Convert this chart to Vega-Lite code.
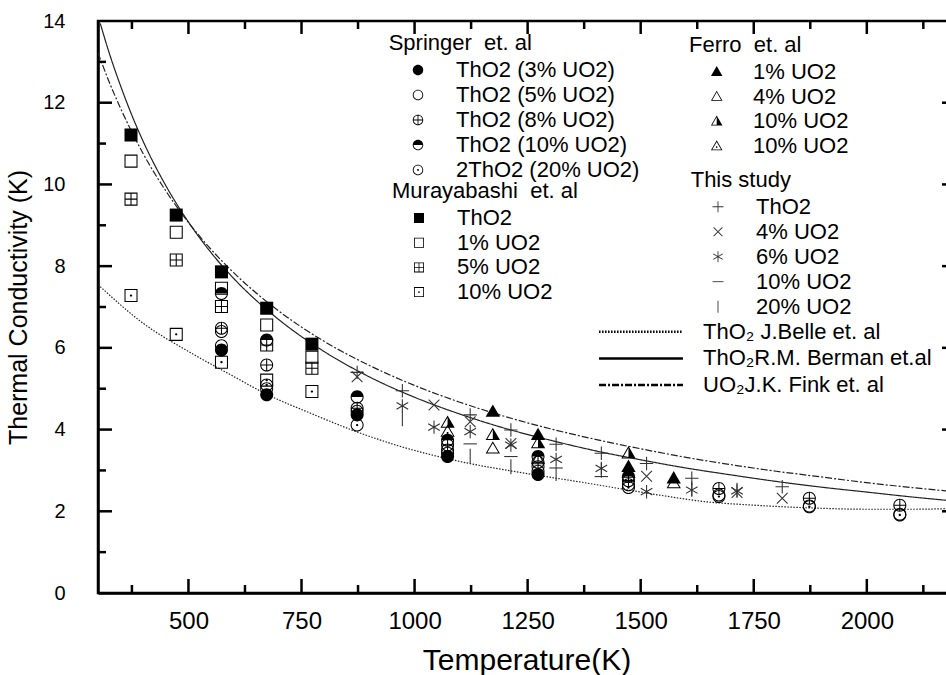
{
  "$schema": "https://vega.github.io/schema/vega-lite/v6.json",
  "width": 857,
  "height": 572,
  "autosize": {"type": "none"},
  "padding": {"left": 98, "top": 21, "right": -9, "bottom": 82},
  "background": "white",
  "config": {"view": {"stroke": "black", "strokeWidth": 2.5}, "font": "Liberation Sans"},
  "datasets": {
    "xmajor": [{"v": 500}, {"v": 750}, {"v": 1000}, {"v": 1250}, {"v": 1500}, {"v": 1750}, {"v": 2000}],
    "xminor": [{"v": 375}, {"v": 625}, {"v": 875}, {"v": 1125}, {"v": 1375}, {"v": 1625}, {"v": 1875}, {"v": 2125}],
    "ymajor": [{"v": 2}, {"v": 4}, {"v": 6}, {"v": 8}, {"v": 10}, {"v": 12}],
    "yminor": [{"v": 1}, {"v": 3}, {"v": 5}, {"v": 7}, {"v": 9}, {"v": 11}, {"v": 13}],
    "lines": [
      {"m": "ThO₂ J.Belle et. al", "T": 300, "K": 7.55},
      {"m": "ThO₂ J.Belle et. al", "T": 400, "K": 6.6},
      {"m": "ThO₂ J.Belle et. al", "T": 502, "K": 5.9},
      {"m": "ThO₂ J.Belle et. al", "T": 600, "K": 5.3},
      {"m": "ThO₂ J.Belle et. al", "T": 672, "K": 4.87},
      {"m": "ThO₂ J.Belle et. al", "T": 770, "K": 4.4},
      {"m": "ThO₂ J.Belle et. al", "T": 871, "K": 3.95},
      {"m": "ThO₂ J.Belle et. al", "T": 965, "K": 3.6},
      {"m": "ThO₂ J.Belle et. al", "T": 1100, "K": 3.22},
      {"m": "ThO₂ J.Belle et. al", "T": 1250, "K": 2.92},
      {"m": "ThO₂ J.Belle et. al", "T": 1365, "K": 2.72},
      {"m": "ThO₂ J.Belle et. al", "T": 1500, "K": 2.47},
      {"m": "ThO₂ J.Belle et. al", "T": 1586, "K": 2.32},
      {"m": "ThO₂ J.Belle et. al", "T": 1631, "K": 2.25},
      {"m": "ThO₂ J.Belle et. al", "T": 1750, "K": 2.15},
      {"m": "ThO₂ J.Belle et. al", "T": 1881, "K": 2.08},
      {"m": "ThO₂ J.Belle et. al", "T": 2000, "K": 2.05},
      {"m": "ThO₂ J.Belle et. al", "T": 2100, "K": 2.05},
      {"m": "ThO₂ J.Belle et. al", "T": 2195, "K": 2.07},
      {"m": "ThO₂R.M. Berman et.al", "T": 305, "K": 13.94},
      {"m": "ThO₂R.M. Berman et.al", "T": 325, "K": 13.21},
      {"m": "ThO₂R.M. Berman et.al", "T": 350, "K": 12.41},
      {"m": "ThO₂R.M. Berman et.al", "T": 375, "K": 11.69},
      {"m": "ThO₂R.M. Berman et.al", "T": 400, "K": 11.05},
      {"m": "ThO₂R.M. Berman et.al", "T": 450, "K": 9.97},
      {"m": "ThO₂R.M. Berman et.al", "T": 500, "K": 9.08},
      {"m": "ThO₂R.M. Berman et.al", "T": 550, "K": 8.33},
      {"m": "ThO₂R.M. Berman et.al", "T": 600, "K": 7.7},
      {"m": "ThO₂R.M. Berman et.al", "T": 700, "K": 6.69},
      {"m": "ThO₂R.M. Berman et.al", "T": 800, "K": 5.91},
      {"m": "ThO₂R.M. Berman et.al", "T": 900, "K": 5.29},
      {"m": "ThO₂R.M. Berman et.al", "T": 1000, "K": 4.79},
      {"m": "ThO₂R.M. Berman et.al", "T": 1100, "K": 4.38},
      {"m": "ThO₂R.M. Berman et.al", "T": 1200, "K": 4.03},
      {"m": "ThO₂R.M. Berman et.al", "T": 1300, "K": 3.74},
      {"m": "ThO₂R.M. Berman et.al", "T": 1400, "K": 3.48},
      {"m": "ThO₂R.M. Berman et.al", "T": 1500, "K": 3.26},
      {"m": "ThO₂R.M. Berman et.al", "T": 1600, "K": 3.06},
      {"m": "ThO₂R.M. Berman et.al", "T": 1700, "K": 2.89},
      {"m": "ThO₂R.M. Berman et.al", "T": 1800, "K": 2.73},
      {"m": "ThO₂R.M. Berman et.al", "T": 1900, "K": 2.59},
      {"m": "ThO₂R.M. Berman et.al", "T": 2000, "K": 2.47},
      {"m": "ThO₂R.M. Berman et.al", "T": 2100, "K": 2.35},
      {"m": "ThO₂R.M. Berman et.al", "T": 2195, "K": 2.25},
      {"m": "UO₂J.K. Fink et. al", "T": 300, "K": 13.22},
      {"m": "UO₂J.K. Fink et. al", "T": 325, "K": 12.5},
      {"m": "UO₂J.K. Fink et. al", "T": 350, "K": 11.86},
      {"m": "UO₂J.K. Fink et. al", "T": 375, "K": 11.28},
      {"m": "UO₂J.K. Fink et. al", "T": 400, "K": 10.75},
      {"m": "UO₂J.K. Fink et. al", "T": 450, "K": 9.84},
      {"m": "UO₂J.K. Fink et. al", "T": 500, "K": 9.07},
      {"m": "UO₂J.K. Fink et. al", "T": 550, "K": 8.41},
      {"m": "UO₂J.K. Fink et. al", "T": 600, "K": 7.84},
      {"m": "UO₂J.K. Fink et. al", "T": 700, "K": 6.9},
      {"m": "UO₂J.K. Fink et. al", "T": 800, "K": 6.16},
      {"m": "UO₂J.K. Fink et. al", "T": 900, "K": 5.57},
      {"m": "UO₂J.K. Fink et. al", "T": 1000, "K": 5.08},
      {"m": "UO₂J.K. Fink et. al", "T": 1100, "K": 4.67},
      {"m": "UO₂J.K. Fink et. al", "T": 1200, "K": 4.32},
      {"m": "UO₂J.K. Fink et. al", "T": 1300, "K": 4.02},
      {"m": "UO₂J.K. Fink et. al", "T": 1400, "K": 3.76},
      {"m": "UO₂J.K. Fink et. al", "T": 1500, "K": 3.53},
      {"m": "UO₂J.K. Fink et. al", "T": 1600, "K": 3.32},
      {"m": "UO₂J.K. Fink et. al", "T": 1700, "K": 3.14},
      {"m": "UO₂J.K. Fink et. al", "T": 1800, "K": 2.98},
      {"m": "UO₂J.K. Fink et. al", "T": 1900, "K": 2.84},
      {"m": "UO₂J.K. Fink et. al", "T": 2000, "K": 2.7},
      {"m": "UO₂J.K. Fink et. al", "T": 2100, "K": 2.58},
      {"m": "UO₂J.K. Fink et. al", "T": 2195, "K": 2.48}
    ],
    "springer": [
      {"s": "ThO2 (3% UO2)", "T": 573, "K": 5.95},
      {"s": "ThO2 (3% UO2)", "T": 673, "K": 4.85},
      {"s": "ThO2 (3% UO2)", "T": 873, "K": 4.36},
      {"s": "ThO2 (3% UO2)", "T": 1073, "K": 3.34},
      {"s": "ThO2 (3% UO2)", "T": 1273, "K": 2.9},
      {"s": "ThO2 (5% UO2)", "T": 573, "K": 6.4},
      {"s": "ThO2 (5% UO2)", "T": 673, "K": 5.0},
      {"s": "ThO2 (5% UO2)", "T": 873, "K": 4.45},
      {"s": "ThO2 (5% UO2)", "T": 1073, "K": 3.5},
      {"s": "ThO2 (5% UO2)", "T": 1273, "K": 3.09},
      {"s": "ThO2 (5% UO2)", "T": 1473, "K": 2.65},
      {"s": "ThO2 (5% UO2)", "T": 1673, "K": 2.4},
      {"s": "ThO2 (5% UO2)", "T": 1873, "K": 2.13},
      {"s": "ThO2 (5% UO2)", "T": 2073, "K": 1.93},
      {"s": "ThO2 (10% UO2)", "T": 573, "K": 7.33},
      {"s": "ThO2 (10% UO2)", "T": 673, "K": 6.19},
      {"s": "ThO2 (10% UO2)", "T": 873, "K": 4.8},
      {"s": "ThO2 (10% UO2)", "T": 1073, "K": 3.74},
      {"s": "ThO2 (10% UO2)", "T": 1273, "K": 3.34},
      {"s": "ThO2 (10% UO2)", "T": 1473, "K": 2.85},
      {"s": "ThO2 (8% UO2)", "T": 573, "K": 6.48},
      {"s": "ThO2 (8% UO2)", "T": 673, "K": 5.58},
      {"s": "ThO2 (8% UO2)", "T": 873, "K": 4.52},
      {"s": "ThO2 (8% UO2)", "T": 1073, "K": 3.62},
      {"s": "ThO2 (8% UO2)", "T": 1273, "K": 3.2},
      {"s": "ThO2 (8% UO2)", "T": 1473, "K": 2.75},
      {"s": "ThO2 (8% UO2)", "T": 1673, "K": 2.56},
      {"s": "ThO2 (8% UO2)", "T": 1873, "K": 2.32},
      {"s": "ThO2 (8% UO2)", "T": 2073, "K": 2.15},
      {"s": "2ThO2 (20% UO2)", "T": 573, "K": 6.05},
      {"s": "2ThO2 (20% UO2)", "T": 673, "K": 5.09},
      {"s": "2ThO2 (20% UO2)", "T": 873, "K": 4.11},
      {"s": "2ThO2 (20% UO2)", "T": 1073, "K": 3.42},
      {"s": "2ThO2 (20% UO2)", "T": 1273, "K": 2.98},
      {"s": "2ThO2 (20% UO2)", "T": 1473, "K": 2.58},
      {"s": "2ThO2 (20% UO2)", "T": 1673, "K": 2.36},
      {"s": "2ThO2 (20% UO2)", "T": 1873, "K": 2.11},
      {"s": "2ThO2 (20% UO2)", "T": 2073, "K": 1.91}
    ],
    "muray": [
      {"s": "ThO2", "T": 373, "K": 11.21},
      {"s": "ThO2", "T": 473, "K": 9.25},
      {"s": "ThO2", "T": 573, "K": 7.86},
      {"s": "ThO2", "T": 673, "K": 6.97},
      {"s": "ThO2", "T": 773, "K": 6.09},
      {"s": "1% UO2", "T": 373, "K": 10.57},
      {"s": "1% UO2", "T": 473, "K": 8.83},
      {"s": "1% UO2", "T": 573, "K": 7.46},
      {"s": "1% UO2", "T": 673, "K": 6.56},
      {"s": "1% UO2", "T": 773, "K": 5.77},
      {"s": "5% UO2", "T": 373, "K": 9.64},
      {"s": "5% UO2", "T": 473, "K": 8.15},
      {"s": "5% UO2", "T": 573, "K": 7.01},
      {"s": "5% UO2", "T": 673, "K": 6.07},
      {"s": "5% UO2", "T": 773, "K": 5.5},
      {"s": "10% UO2", "T": 373, "K": 7.28},
      {"s": "10% UO2", "T": 473, "K": 6.33},
      {"s": "10% UO2", "T": 573, "K": 5.65},
      {"s": "10% UO2", "T": 673, "K": 5.21},
      {"s": "10% UO2", "T": 773, "K": 4.93}
    ],
    "ferro": [
      {"s": "1% UO2", "T": 1173, "K": 4.44},
      {"s": "1% UO2", "T": 1273, "K": 3.87},
      {"s": "1% UO2", "T": 1473, "K": 3.09},
      {"s": "1% UO2", "T": 1573, "K": 2.81},
      {"s": "4% UO2", "T": 1173, "K": 3.54},
      {"s": "4% UO2", "T": 1273, "K": 3.28},
      {"s": "4% UO2", "T": 1473, "K": 2.95},
      {"s": "4% UO2", "T": 1573, "K": 2.69},
      {"s": "10% UO2", "T": 1073, "K": 4.17},
      {"s": "10% UO2", "T": 1173, "K": 3.87},
      {"s": "10% UO2", "T": 1273, "K": 3.67},
      {"s": "10% UO2", "T": 1473, "K": 3.42},
      {"s": "10% UO2 ", "T": 1073, "K": 3.95}
    ],
    "study": [
      {"s": "ThO2", "T": 873, "K": 5.4},
      {"s": "ThO2", "T": 973, "K": 4.95},
      {"s": "ThO2", "T": 1123, "K": 4.36},
      {"s": "ThO2", "T": 1213, "K": 3.99},
      {"s": "ThO2", "T": 1313, "K": 3.64},
      {"s": "ThO2", "T": 1413, "K": 3.42},
      {"s": "ThO2", "T": 1513, "K": 3.17},
      {"s": "ThO2", "T": 1613, "K": 2.81},
      {"s": "ThO2", "T": 1813, "K": 2.6},
      {"s": "4% UO2", "T": 873, "K": 5.29},
      {"s": "4% UO2", "T": 1043, "K": 4.6},
      {"s": "4% UO2", "T": 1123, "K": 4.19},
      {"s": "4% UO2", "T": 1213, "K": 3.66},
      {"s": "4% UO2", "T": 1513, "K": 2.86},
      {"s": "4% UO2", "T": 1713, "K": 2.46},
      {"s": "4% UO2", "T": 1813, "K": 2.32},
      {"s": "6% UO2", "T": 973, "K": 4.58},
      {"s": "6% UO2", "T": 1043, "K": 4.06},
      {"s": "6% UO2", "T": 1123, "K": 3.95},
      {"s": "6% UO2", "T": 1213, "K": 3.62},
      {"s": "6% UO2", "T": 1313, "K": 3.27},
      {"s": "6% UO2", "T": 1413, "K": 3.05},
      {"s": "6% UO2", "T": 1513, "K": 2.48},
      {"s": "6% UO2", "T": 1613, "K": 2.52},
      {"s": "6% UO2", "T": 1713, "K": 2.5},
      {"s": "10% UO2", "T": 1123, "K": 3.65},
      {"s": "10% UO2", "T": 1213, "K": 3.34},
      {"s": "10% UO2", "T": 1313, "K": 3.06},
      {"s": "10% UO2", "T": 1413, "K": 2.85},
      {"s": "20% UO2", "T": 973, "K": 4.26},
      {"s": "20% UO2", "T": 1123, "K": 3.35},
      {"s": "20% UO2", "T": 1213, "K": 3.09},
      {"s": "20% UO2", "T": 1313, "K": 2.92},
      {"s": "20% UO2", "T": 1413, "K": 3.0},
      {"s": "20% UO2", "T": 1613, "K": 2.55},
      {"s": "20% UO2", "T": 1713, "K": 2.52}
    ]
  },
  "layer": [
    {
      "data": {"name": "lines"},
      "mark": {"type": "line", "strokeWidth": 1.2, "color": "#222", "interpolate": "monotone", "clip": true},
      "encoding": {
        "x": {"field": "T", "type": "quantitative", "scale": {"domain": [300, 2195], "nice": false, "zero": false},
          "axis": {"orient": "bottom", "values": [500, 750, 1000, 1250, 1500, 1750, 2000], "format": "d", "ticks": false, "labels": true, "labelFont": "Liberation Sans", "labelFontSize": 24, "labelColor": "black", "labelPadding": 16, "labelFlush": false, "labelOverlap": false, "domain": true, "domainColor": "black", "domainWidth": 2.5, "grid": false, "title": "Temperature(K)", "titleFont": "Liberation Sans", "titleFontSize": 30, "titleFontWeight": "normal", "titleColor": "black", "titlePadding": 12}},
        "y": {"field": "K", "type": "quantitative", "scale": {"domain": [0, 14], "nice": false, "zero": true},
          "axis": {"orient": "left", "values": [0, 2, 4, 6, 8, 10, 12, 14], "ticks": false, "labels": true, "labelFont": "Liberation Sans", "labelFontSize": 20, "labelColor": "black", "labelPadding": 33, "labelFlush": false, "labelOverlap": false, "domain": true, "domainColor": "black", "domainWidth": 2.5, "grid": false, "title": "Thermal Conductivity (K)", "titleFont": "Liberation Sans", "titleFontSize": 25, "titleFontWeight": "normal", "titleColor": "black", "titlePadding": 11}},
        "strokeDash": {"field": "m", "type": "nominal",
          "scale": {"domain": ["ThO₂ J.Belle et. al", "ThO₂R.M. Berman et.al", "UO₂J.K. Fink et. al"], "range": [[1.5, 1.5], [1, 0], [7, 2, 2, 2]]},
          "legend": {"title": null, "orient": "none", "legendX": 501, "legendY": 299.7, "direction": "vertical", "symbolType": "M-8,0H8", "symbolSize": 110, "symbolStrokeWidth": 2.5, "symbolStrokeColor": "black", "symbolOffset": 31, "labelOffset": 51, "labelFont": "Liberation Sans", "labelFontSize": 22, "labelColor": "black", "labelLimit": 400, "rowPadding": 4.7, "padding": 0}}
      }
    },
    {
      "data": {"name": "xmajor"},
      "mark": {"type": "tick", "orient": "vertical", "size": 14, "thickness": 2.5, "yOffset": -7, "color": "black", "opacity": 1, "clip": true},
      "encoding": {
        "x": {"field": "v", "type": "quantitative", "axis": null},
        "y": {"datum": 0, "type": "quantitative", "axis": null}
      }
    },
    {
      "data": {"name": "xminor"},
      "mark": {"type": "tick", "orient": "vertical", "size": 8, "thickness": 2.5, "yOffset": -4, "color": "black", "opacity": 1, "clip": true},
      "encoding": {
        "x": {"field": "v", "type": "quantitative", "axis": null},
        "y": {"datum": 0, "type": "quantitative", "axis": null}
      }
    },
    {
      "data": {"name": "xmajor"},
      "mark": {"type": "tick", "orient": "vertical", "size": 13, "thickness": 2.5, "yOffset": 6.5, "color": "black", "opacity": 1, "clip": true},
      "encoding": {
        "x": {"field": "v", "type": "quantitative", "axis": null},
        "y": {"datum": 14, "type": "quantitative", "axis": null}
      }
    },
    {
      "data": {"name": "xminor"},
      "mark": {"type": "tick", "orient": "vertical", "size": 8, "thickness": 2.5, "yOffset": 4, "color": "black", "opacity": 1, "clip": true},
      "encoding": {
        "x": {"field": "v", "type": "quantitative", "axis": null},
        "y": {"datum": 14, "type": "quantitative", "axis": null}
      }
    },
    {
      "data": {"name": "ymajor"},
      "mark": {"type": "tick", "orient": "horizontal", "size": 14, "thickness": 2.5, "xOffset": 7, "color": "black", "opacity": 1, "clip": true},
      "encoding": {
        "y": {"field": "v", "type": "quantitative", "axis": null},
        "x": {"datum": 300, "type": "quantitative", "axis": null}
      }
    },
    {
      "data": {"name": "yminor"},
      "mark": {"type": "tick", "orient": "horizontal", "size": 8, "thickness": 2.5, "xOffset": 4, "color": "black", "opacity": 1, "clip": true},
      "encoding": {
        "y": {"field": "v", "type": "quantitative", "axis": null},
        "x": {"datum": 300, "type": "quantitative", "axis": null}
      }
    },
    {
      "data": {"name": "ymajor"},
      "mark": {"type": "tick", "orient": "horizontal", "size": 13, "thickness": 2.5, "xOffset": -6.5, "color": "black", "opacity": 1, "clip": true},
      "encoding": {
        "y": {"field": "v", "type": "quantitative", "axis": null},
        "x": {"datum": 2195, "type": "quantitative", "axis": null}
      }
    },
    {
      "data": {"name": "springer"},
      "mark": {"type": "point", "filled": true, "fill": "black", "strokeWidth": 0, "opacity": 1, "size": 170, "clip": true},
      "encoding": {
        "x": {"field": "T", "type": "quantitative", "axis": null},
        "y": {"field": "K", "type": "quantitative", "axis": null},
        "shape": {"field": "s", "type": "nominal",
          "scale": {"domain": ["ThO2 (3% UO2)", "ThO2 (5% UO2)", "ThO2 (8% UO2)", "ThO2 (10% UO2)", "2ThO2 (20% UO2)"],
            "range": [
              "M-1,0A1,1,0,1,1,1,0A1,1,0,1,1,-1,0Z",
              "M-1,0A1,1,0,1,1,1,0A1,1,0,1,1,-1,0ZM-0.84,0A0.84,0.84,0,1,0,0.84,0A0.84,0.84,0,1,0,-0.84,0Z",
              "M-1,0A1,1,0,1,1,1,0A1,1,0,1,1,-1,0ZM-0.84,0A0.84,0.84,0,1,0,0.84,0A0.84,0.84,0,1,0,-0.84,0ZM-0.86,-0.08H0.86V0.08H-0.86ZM-0.08,-0.86H0.08V0.86H-0.08Z",
              "M-1,0A1,1,0,1,1,1,0A1,1,0,1,1,-1,0ZM-0.84,0A0.84,0.84,0,1,0,0.84,0A0.84,0.84,0,1,0,-0.84,0ZM-1,0A1,1,0,0,1,1,0Z",
              "M-1,0A1,1,0,1,1,1,0A1,1,0,1,1,-1,0ZM-0.84,0A0.84,0.84,0,1,0,0.84,0A0.84,0.84,0,1,0,-0.84,0ZM-0.18,0A0.18,0.18,0,1,1,0.18,0A0.18,0.18,0,1,1,-0.18,0Z"
            ]},
          "legend": {"title": "Springer\u00a0 et. al", "orient": "none", "legendX": 290.7, "legendY": 12, "direction": "vertical", "symbolSize": 110, "symbolFillColor": "black", "symbolStrokeWidth": 0, "symbolOpacity": 1, "symbolOffset": 18.3, "labelOffset": 27, "labelFont": "Liberation Sans", "labelFontSize": 22, "labelColor": "black", "labelLimit": 400, "titleFont": "Liberation Sans", "titleFontSize": 22, "titleFontWeight": "normal", "titleColor": "black", "titlePadding": 4, "titleLimit": 400, "rowPadding": 3, "padding": 0}}
      }
    },
    {
      "data": {"name": "muray"},
      "mark": {"type": "point", "filled": true, "fill": "black", "strokeWidth": 0, "opacity": 1, "size": 170, "clip": true},
      "encoding": {
        "x": {"field": "T", "type": "quantitative", "axis": null},
        "y": {"field": "K", "type": "quantitative", "axis": null},
        "shape": {"field": "s", "type": "nominal",
          "scale": {"domain": ["ThO2", "1% UO2", "5% UO2", "10% UO2"],
            "range": [
              "M-1,-1H1V1H-1Z",
              "M-1,-1H1V1H-1ZM-0.84,-0.84V0.84H0.84V-0.84Z",
              "M-1,-1H1V1H-1ZM-0.84,-0.84V0.84H0.84V-0.84ZM-0.86,-0.08H0.86V0.08H-0.86ZM-0.08,-0.86H0.08V0.86H-0.08Z",
              "M-1,-1H1V1H-1ZM-0.84,-0.84V0.84H0.84V-0.84ZM-0.18,0A0.18,0.18,0,1,1,0.18,0A0.18,0.18,0,1,1,-0.18,0Z"
            ]},
          "legend": {"title": "Murayabashi\u00a0 et. al", "orient": "none", "legendX": 294, "legendY": 160, "direction": "vertical", "symbolSize": 100, "symbolFillColor": "black", "symbolStrokeWidth": 0, "symbolOpacity": 1, "symbolOffset": 16, "labelOffset": 27, "labelFont": "Liberation Sans", "labelFontSize": 22, "labelColor": "black", "labelLimit": 400, "titleFont": "Liberation Sans", "titleFontSize": 22, "titleFontWeight": "normal", "titleColor": "black", "titlePadding": 4, "titleLimit": 400, "rowPadding": 2.7, "padding": 0}}
      }
    },
    {
      "data": {"name": "ferro"},
      "mark": {"type": "point", "filled": true, "fill": "black", "strokeWidth": 0, "opacity": 1, "size": 170, "clip": true},
      "encoding": {
        "x": {"field": "T", "type": "quantitative", "axis": null},
        "y": {"field": "K", "type": "quantitative", "axis": null},
        "shape": {"field": "s", "type": "nominal",
          "scale": {"domain": ["1% UO2", "4% UO2", "10% UO2", "10% UO2 "],
            "range": [
              "M0,-1.1L1.1,0.8L-1.1,0.8Z",
              "M0,-1.1L1.1,0.8L-1.1,0.8ZM0,-0.8L-0.839,0.65L0.839,0.65Z",
              "M0,-1.1L1.1,0.8L-1.1,0.8ZM0,-0.8L-0.839,0.65L0.839,0.65ZM0,-1.1L1.1,0.8L0,0.8Z",
              "M0,-1.1L1.1,0.8L-1.1,0.8ZM0,-0.8L-0.839,0.65L0.839,0.65ZM-0.16,0.2A0.16,0.16,0,1,1,0.16,0.2A0.16,0.16,0,1,1,-0.16,0.2Z"
            ]},
          "legend": {"title": "Ferro\u00a0 et. al", "orient": "none", "legendX": 591, "legendY": 13.7, "direction": "vertical", "symbolSize": 110, "symbolFillColor": "black", "symbolStrokeWidth": 0, "symbolOpacity": 1, "symbolOffset": 16.7, "labelOffset": 25.3, "labelFont": "Liberation Sans", "labelFontSize": 22, "labelColor": "black", "labelLimit": 400, "titleFont": "Liberation Sans", "titleFontSize": 22, "titleFontWeight": "normal", "titleColor": "black", "titlePadding": 4, "titleLimit": 400, "rowPadding": 2.8, "padding": 0}}
      }
    },
    {
      "data": {"name": "study"},
      "mark": {"type": "point", "filled": true, "fill": "#333", "strokeWidth": 0, "opacity": 1, "size": 180, "clip": true},
      "encoding": {
        "x": {"field": "T", "type": "quantitative", "axis": null},
        "y": {"field": "K", "type": "quantitative", "axis": null},
        "shape": {"field": "s", "type": "nominal",
          "scale": {"domain": ["ThO2", "4% UO2", "6% UO2", "10% UO2", "20% UO2"],
            "range": [
              "M-1,-0.08H1V0.08H-1ZM-0.08,-1H0.08V1H-0.08Z",
              "M-0.743,-0.857L0.857,0.743L0.743,0.857L-0.857,-0.743ZM-0.743,0.857L-0.857,0.743L0.743,-0.857L0.857,-0.743Z",
              "M-0.08,-1H0.08V1H-0.08ZM-0.826,-0.569L0.906,0.431L0.826,0.569L-0.906,-0.431ZM-0.826,0.569L-0.906,0.431L0.826,-0.569L0.906,-0.431Z",
              "M-1,-0.08H1V0.08H-1Z",
              "M-0.08,-1.1H0.08V1.1H-0.08Z"
            ]},
          "legend": {"title": "This study", "orient": "none", "legendX": 592.7, "legendY": 148.7, "direction": "vertical", "symbolSize": 120, "symbolFillColor": "#333", "symbolStrokeWidth": 0, "symbolOpacity": 1, "symbolOffset": 16.3, "labelOffset": 27, "labelFont": "Liberation Sans", "labelFontSize": 22, "labelColor": "black", "labelLimit": 400, "titleFont": "Liberation Sans", "titleFontSize": 22, "titleFontWeight": "normal", "titleColor": "black", "titlePadding": 4, "titleLimit": 400, "rowPadding": 3, "padding": 0}}
      }
    }
  ],
  "resolve": {"scale": {"shape": "independent"}, "axis": {"x": "independent", "y": "independent"}}
}
